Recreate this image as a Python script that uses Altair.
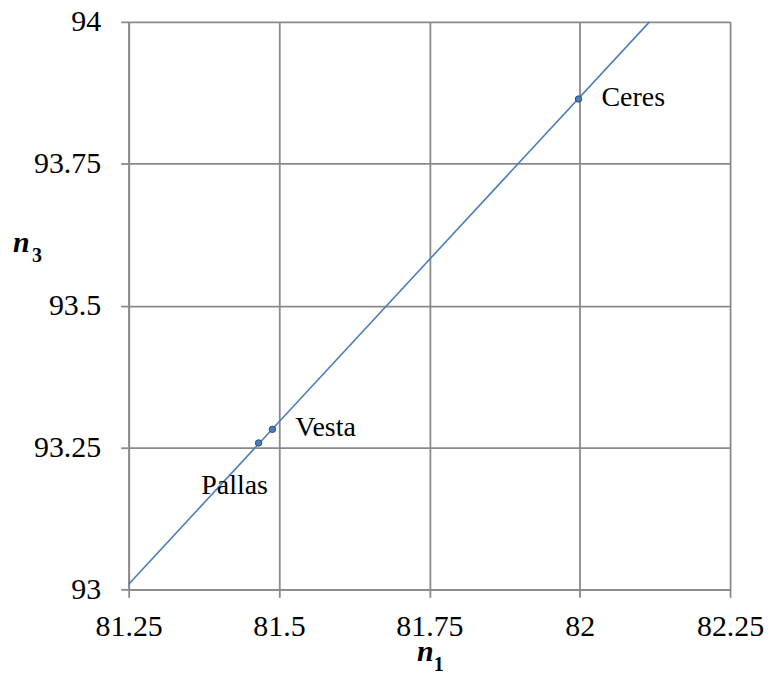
import altair as alt
import pandas as pd

# asteroid points
names = ["Ceres", "Vesta", "Pallas"]
n1_vals = [81.998, 81.489, 81.466]
n3_vals = [93.864, 93.282, 93.258]

# fitted line endpoints
line_n1 = [81.25, 82.116]
line_n3 = [93.009, 94.0]

x_ticks = [81.25, 81.5, 81.75, 82, 82.25]
y_ticks = [93, 93.25, 93.5, 93.75, 94]

pts = pd.DataFrame({"name": names, "n1": n1_vals, "n3": n3_vals})
line_df = pd.DataFrame({"n1": line_n1, "n3": line_n3})

FONT = "Liberation Serif"
BLUE = "#4a7ebb"
GRID = "#8a8a8a"

xs = alt.Scale(domain=[81.25, 82.25], nice=False, zero=False)
ys = alt.Scale(domain=[93, 94], nice=False, zero=False)

x_axis = alt.Axis(values=x_ticks, title=None, grid=True, gridColor=GRID, gridWidth=1.8,
                  domainColor=GRID, domainWidth=1.8, tickColor=GRID, tickWidth=1.8,
                  tickSize=8, labelFont=FONT, labelFontSize=30, labelColor="black",
                  labelPadding=14, labelFlush=False,
                  labelExpr="datum.value == 81.5 ? '81.5' : datum.value == 82 ? '82' : format(datum.value, '.2f')")
y_axis = alt.Axis(values=y_ticks, title=None, grid=True, gridColor=GRID, gridWidth=1.8,
                  domainColor=GRID, domainWidth=1.8, tickColor=GRID, tickWidth=1.8,
                  tickSize=8, labelFont=FONT, labelFontSize=30, labelColor="black",
                  labelPadding=20, labelFlush=False,
                  labelExpr="datum.value == 93 ? '93' : datum.value == 94 ? '94' : datum.value == 93.5 ? '93.5' : format(datum.value, '.2f')")

line = alt.Chart(line_df).mark_line(color=BLUE, strokeWidth=1.6).encode(
    x=alt.X("n1:Q", scale=xs, axis=x_axis),
    y=alt.Y("n3:Q", scale=ys, axis=y_axis),
)

points = alt.Chart(pts).mark_point(filled=True, shape="circle", size=42, color=BLUE,
                                   stroke="#2a4f7e", strokeWidth=1, opacity=1).encode(
    x=alt.X("n1:Q", scale=xs),
    y=alt.Y("n3:Q", scale=ys),
)

lbl_right = alt.Chart(pts[pts.name != "Pallas"]).mark_text(
    font=FONT, fontSize=28, align="left", baseline="middle", dx=23, dy=-1, color="black"
).encode(x=alt.X("n1:Q", scale=xs), y=alt.Y("n3:Q", scale=ys), text="name:N")

lbl_pallas = alt.Chart(pts[pts.name == "Pallas"]).mark_text(
    font=FONT, fontSize=28, align="center", baseline="middle", dx=-24, dy=43, color="black"
).encode(x=alt.X("n1:Q", scale=xs), y=alt.Y("n3:Q", scale=ys), text="name:N")

title_df = pd.DataFrame({"t": [0]})


def txt(s, x, y, size, italic=True):
    return alt.Chart(title_df).mark_text(
        text=s, font=FONT, fontSize=size, fontWeight="bold",
        fontStyle="italic" if italic else "normal",
        align="left", baseline="alphabetic", color="black"
    ).encode(x=alt.value(x), y=alt.value(y))


titles = [
    txt("n", -116, 231, 30),
    txt("3", -97, 241, 20, italic=False),
    txt("n", 289, 641, 30),
    txt("1", 306, 651, 20, italic=False),
]

chart = alt.layer(line, points, lbl_right, lbl_pallas, *titles).properties(
    width=603, height=569,
    background="white",
    autosize=alt.AutoSizeParams(type="none"),
    padding={"left": 121, "top": 13, "right": 34, "bottom": 90},
).configure_view(stroke=None)

chart.save("out.html", embed_options={"renderer": "svg", "actions": False})
